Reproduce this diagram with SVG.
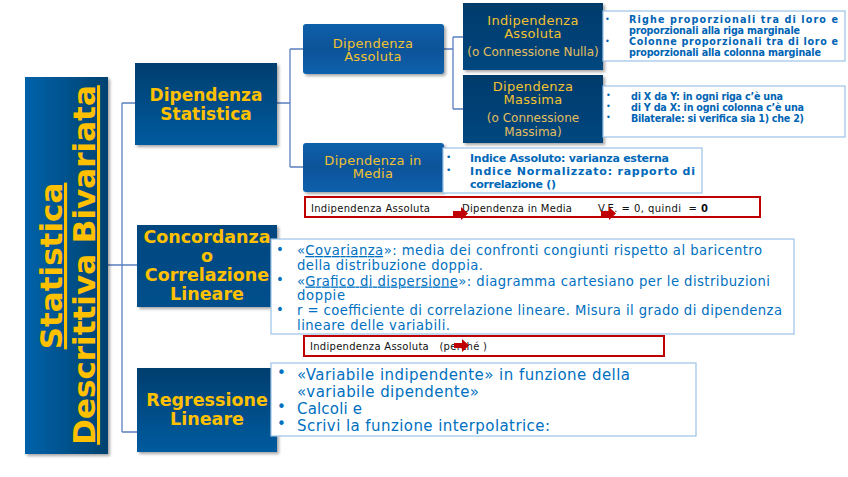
<svg xmlns="http://www.w3.org/2000/svg" width="848" height="477" viewBox="0 0 848 477">
<defs>
  <linearGradient id="gTitle" x1="0" y1="0" x2="1" y2="0">
    <stop offset="0" stop-color="#0062a9"/><stop offset="1" stop-color="#00426f"/>
  </linearGradient>
  <linearGradient id="gMain" x1="0" y1="0" x2="0" y2="1">
    <stop offset="0" stop-color="#003e6e"/><stop offset="1" stop-color="#005b9f"/>
  </linearGradient>
  <linearGradient id="gConc" x1="0" y1="0" x2="0" y2="1">
    <stop offset="0" stop-color="#00467e"/><stop offset="1" stop-color="#00508c"/>
  </linearGradient>
  <linearGradient id="gSmall" x1="0" y1="0" x2="0" y2="1">
    <stop offset="0" stop-color="#0b5faa"/><stop offset="0.5" stop-color="#0a5499"/><stop offset="1" stop-color="#0c60ad"/>
  </linearGradient>
  <linearGradient id="gDark" x1="0" y1="0" x2="0" y2="1">
    <stop offset="0" stop-color="#003b6b"/><stop offset="1" stop-color="#00477f"/>
  </linearGradient>
  <filter id="sh" x="-10%" y="-10%" width="130%" height="130%">
    <feDropShadow dx="2" dy="2" stdDeviation="1.5" flood-color="#000" flood-opacity="0.35"/>
  </filter>
  <g id="arrowR">
    <path d="M0,3 H8 V-1 L15,5.5 L8,12 V8 H0 Z"/>
  </g>
</defs>
<style>
  text { font-family: "DejaVu Sans", Verdana, sans-serif; }
  .conn { fill: none; stroke: #5a7fc0; stroke-width: 1.3; }
  .ybold { fill: #FFC000; font-weight: bold; text-anchor: middle; }
  .ysmall { fill: #F2C230; text-anchor: middle; font-size: 13px; letter-spacing: 0.3px; }
  .ylight { fill: #E3BE5E; text-anchor: middle; font-size: 12px; }
  .bbox { fill: #ffffff; stroke: #9cc3e6; stroke-width: 1.2; }
  .rbox { fill: #ffffff; stroke: #c00000; stroke-width: 2; }
  .tb { fill: #0064b4; font-weight: bold; font-size: 9.6px; }
  .tm { fill: #0068b8; font-weight: bold; font-size: 11px; }
  .tc { fill: #0070c0; font-size: 13.2px; }
  .tr { fill: #0070c0; font-size: 15px; }
  .bul { fill: #0064b4; }
  .blk { fill: #111111; font-size: 10px; }
  .arr { fill: #c00000; }
</style>

<g id="connectors">
  <path class="conn" d="M108,265 H122 M122,103 V432 M122,103 H135 M122,265 H137 M122,432 H137"/>
  <path class="conn" d="M277,103 H290 M290,49 V167 M290,49 H303 M290,167 H303"/>
  <path class="conn" d="M444,49 H453 M453,37 V109 M453,37 H463 M453,109 H463"/>
</g>

<g id="title">
  <rect x="25" y="77" width="83" height="377" fill="url(#gTitle)" filter="url(#sh)"/>
  <text transform="translate(62,266) rotate(-90)" class="ybold" font-size="31" text-decoration="underline">Statistica</text>
  <text transform="translate(95,265) rotate(-90)" class="ybold" font-size="31" text-decoration="underline">Descrittiva Bivariata</text>
</g>

<g id="dip-statistica">
  <rect x="135" y="63" width="142" height="82" fill="url(#gMain)" filter="url(#sh)"/>
  <text x="206" y="101" class="ybold" font-size="17">Dipendenza</text>
  <text x="206" y="120" class="ybold" font-size="17">Statistica</text>
</g>

<g id="dip-assoluta">
  <rect x="303" y="24" width="141" height="50" rx="3" fill="url(#gSmall)" filter="url(#sh)"/>
  <text x="373" y="47.5" class="ysmall">Dipendenza</text>
  <text x="373" y="61" class="ysmall">Assoluta</text>
</g>

<g id="dip-media">
  <rect x="303" y="143" width="141" height="49" rx="3" fill="url(#gSmall)" filter="url(#sh)"/>
  <text x="373" y="164.5" class="ysmall">Dipendenza in</text>
  <text x="373" y="178" class="ysmall">Media</text>
</g>

<g id="indip-assoluta">
  <rect x="463" y="3" width="140" height="67" fill="url(#gDark)" filter="url(#sh)"/>
  <text x="533" y="24.5" class="ysmall">Indipendenza</text>
  <text x="533" y="38" class="ysmall">Assoluta</text>
  <text x="533" y="56" class="ylight" font-size="12.5">(o Connessione Nulla)</text>
</g>

<g id="dip-massima">
  <rect x="463" y="75" width="140" height="68" fill="url(#gDark)" filter="url(#sh)"/>
  <text x="533" y="90.5" class="ysmall">Dipendenza</text>
  <text x="533" y="104" class="ysmall">Massima</text>
  <text x="533" y="121.5" class="ylight">(o Connessione</text>
  <text x="533" y="135.5" class="ylight">Massima)</text>
</g>

<g id="note-indip">
  <rect class="bbox" x="603" y="11" width="242" height="50"/>
  <text x="605" y="22" class="bul" font-size="8">•</text>
  <text x="605" y="44" class="bul" font-size="8">•</text>
  <text x="629" y="23" class="tb" textLength="209" lengthAdjust="spacing">Righe proporzionali tra di loro e</text>
  <text x="629" y="34" class="tb" textLength="171" lengthAdjust="spacing">proporzionali alla riga marginale</text>
  <text x="629" y="45" class="tb" textLength="209" lengthAdjust="spacing">Colonne proporzionali tra di loro e</text>
  <text x="629" y="56" class="tb" textLength="192" lengthAdjust="spacing">proporzionali alla colonna marginale</text>
</g>

<g id="note-massima">
  <rect class="bbox" x="603" y="86" width="242" height="51"/>
  <text x="606" y="98" class="bul" font-size="8">•</text>
  <text x="606" y="109" class="bul" font-size="8">•</text>
  <text x="606" y="120" class="bul" font-size="8">•</text>
  <text x="631" y="100" class="tb" textLength="152" lengthAdjust="spacing">di X da Y: in ogni riga c’è una</text>
  <text x="631" y="110.5" class="tb" textLength="173" lengthAdjust="spacing">di Y da X: in ogni colonna c’è una</text>
  <text x="631" y="121.5" class="tb" textLength="173" lengthAdjust="spacing">Bilaterale: si verifica sia 1) che 2)</text>
</g>

<g id="note-media">
  <rect class="bbox" x="443" y="148" width="259" height="45"/>
  <text x="446" y="160" class="bul" font-size="9">•</text>
  <text x="446" y="173" class="bul" font-size="9">•</text>
  <text x="470" y="162" class="tm" textLength="199" lengthAdjust="spacing">Indice Assoluto: varianza esterna</text>
  <text x="470" y="175" class="tm" textLength="225" lengthAdjust="spacing">Indice Normalizzato: rapporto di</text>
  <text x="470" y="187.5" class="tm" textLength="86" lengthAdjust="spacing">correlazione ()</text>
</g>

<g id="red-note-1">
  <rect class="rbox" x="305" y="197" width="455" height="20"/>
  <text x="311" y="212" class="blk" textLength="119" lengthAdjust="spacing">Indipendenza Assoluta</text>
  <text x="462" y="212" class="blk" textLength="110" lengthAdjust="spacing">Dipendenza in Media</text>
  <text x="598" y="212" class="blk" xml:space="preserve" textLength="110" lengthAdjust="spacing">V.E. = 0, quindi  = <tspan font-weight="bold">0</tspan></text>
  <use href="#arrowR" class="arr" transform="translate(453,208)"/>
  <use href="#arrowR" class="arr" transform="translate(601,208)"/>
</g>

<g id="concordanza">
  <rect x="137" y="225" width="140" height="82" fill="url(#gConc)" filter="url(#sh)"/>
  <text x="207" y="243" class="ybold" font-size="17.5">Concordanza</text>
  <text x="207" y="262" class="ybold" font-size="17.5">o</text>
  <text x="207" y="281" class="ybold" font-size="17.5">Correlazione</text>
  <text x="207" y="300" class="ybold" font-size="17.5">Lineare</text>
</g>

<g id="note-concordanza">
  <rect class="bbox" x="271" y="239" width="523" height="95"/>
  <text x="276" y="254" class="tc" font-size="10">•</text>
  <text x="276" y="284" class="tc" font-size="10">•</text>
  <text x="276" y="314" class="tc" font-size="10">•</text>
  <text x="297" y="255" class="tc" textLength="465" lengthAdjust="spacing">«<tspan text-decoration="underline">Covarianza</tspan>»: media dei confronti congiunti rispetto al baricentro</text>
  <text x="297" y="270" class="tc" textLength="186" lengthAdjust="spacing">della distribuzione doppia.</text>
  <text x="297" y="285.5" class="tc" textLength="473" lengthAdjust="spacing">«<tspan text-decoration="underline">Grafico di dispersione</tspan>»: diagramma cartesiano per le distribuzioni</text>
  <text x="297" y="300" class="tc" textLength="48" lengthAdjust="spacing">doppie</text>
  <text x="297" y="315" class="tc" textLength="485" lengthAdjust="spacing">r = coefficiente di correlazione lineare. Misura il grado di dipendenza</text>
  <text x="297" y="330" class="tc" textLength="153" lengthAdjust="spacing">lineare delle variabili.</text>
</g>

<g id="red-note-2">
  <rect class="rbox" x="304" y="336" width="360" height="20"/>
  <text x="310" y="350" class="blk" xml:space="preserve" textLength="177" lengthAdjust="spacing">Indipendenza Assoluta   (perché )</text>
  <use href="#arrowR" class="arr" transform="translate(454,340)"/>
</g>

<g id="regressione">
  <rect x="137" y="368" width="140" height="84" fill="url(#gMain)" filter="url(#sh)"/>
  <text x="207" y="406" class="ybold" font-size="17.5">Regressione</text>
  <text x="207" y="425" class="ybold" font-size="17.5">Lineare</text>
</g>

<g id="note-regressione">
  <rect class="bbox" x="271" y="363" width="425" height="73"/>
  <text x="277" y="378" class="tr" font-size="11">•</text>
  <text x="277" y="412" class="tr" font-size="11">•</text>
  <text x="277" y="429" class="tr" font-size="11">•</text>
  <text x="297" y="380" class="tr" textLength="333" lengthAdjust="spacing">«Variabile indipendente» in funzione della</text>
  <text x="297" y="397" class="tr" textLength="182" lengthAdjust="spacing">«variabile dipendente»</text>
  <text x="297" y="414" class="tr" textLength="65" lengthAdjust="spacing">Calcoli e</text>
  <text x="297" y="431" class="tr" textLength="253" lengthAdjust="spacing">Scrivi la funzione interpolatrice:</text>
</g>
</svg>
